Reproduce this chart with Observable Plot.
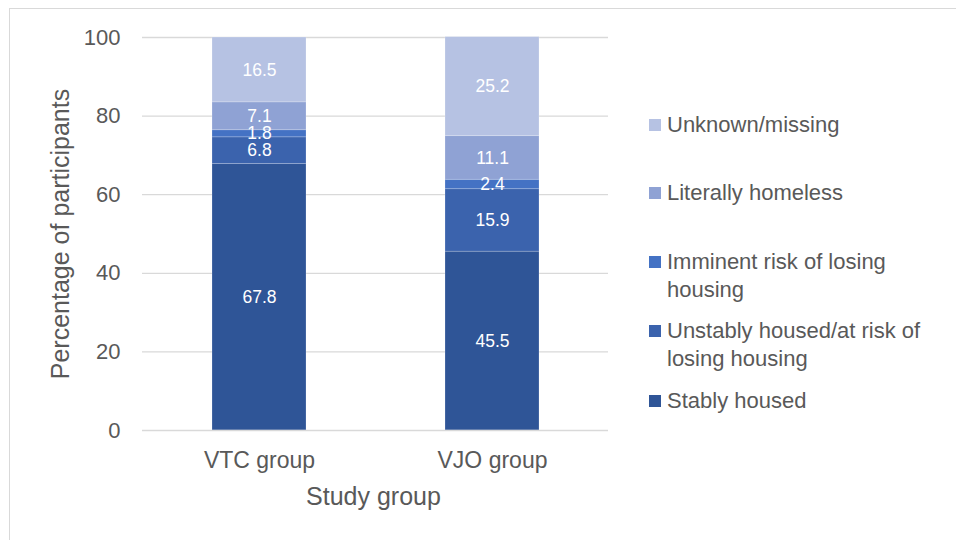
<!DOCTYPE html>
<html>
<head>
<meta charset="utf-8">
<script src="https://cdn.jsdelivr.net/npm/d3@7"></script>
<script src="https://cdn.jsdelivr.net/npm/@observablehq/plot@0.6"></script>
<style>
  html, body { margin: 0; padding: 0; background: #fff; }
  #wrap { position: relative; width: 956px; height: 540px; overflow: hidden; font-family: "Liberation Sans", Arial, sans-serif; color: #595959; }
  #frame { position: absolute; left: 9px; top: 8px; width: 980px; height: 600px; border: 1.5px solid #d9d9d9; box-sizing: border-box; }
  #chart { position: absolute; left: 0; top: 0; }
  .leg { position: absolute; left: 649px; font-size: 22px; line-height: 28px; color: #595959; white-space: nowrap; }
  .sw { position: absolute; left: 0; width: 12px; height: 12px; }
  .lt { position: absolute; left: 18px; top: 0; }
</style>
</head>
<body>
<div id="wrap">
  <div id="frame"></div>
  <div id="chart"></div>
</div>
<script>
const groups = ["VTC group", "VJO group"];
const categories = [
  "Stably housed",
  "Unstably housed/at risk of losing housing",
  "Imminent risk of losing housing",
  "Literally homeless",
  "Unknown/missing"
];
const vtcValues = [67.8, 6.8, 1.8, 7.1, 16.5];
const vjoValues = [45.5, 15.9, 2.4, 11.1, 25.2];
const colors = ["#2F5597", "#3B63AD", "#4472C4", "#8FA2D4", "#B6C2E3"];
const yTicks = [0, 20, 40, 60, 80, 100];
// legend order top to bottom, with the line breaks seen in the picture
const legendLines = [
  ["Unknown/missing"],
  ["Literally homeless"],
  ["Imminent risk of losing", "housing"],
  ["Unstably housed/at risk of", "losing housing"],
  ["Stably housed"]
];
const legendCats = [4, 3, 2, 1, 0];
const legendTops = [111, 179, 248, 317, 387];

const rows = [];
groups.forEach((g, gi) => {
  const vals = gi === 0 ? vtcValues : vjoValues;
  categories.forEach((c, ci) => rows.push({group: g, cat: c, value: vals[ci]}));
});

const plot = Plot.plot({
  width: 956,
  height: 540,
  marginLeft: 142,
  marginRight: 348,
  marginTop: 37,
  marginBottom: 110,
  style: {fontFamily: '"Liberation Sans", Arial, sans-serif', color: "#595959", background: "transparent"},
  x: {domain: groups, paddingInner: 0.597, paddingOuter: 0.2985, label: null},
  y: {domain: [0, 100], label: null},
  color: {domain: categories, range: colors},
  marks: [
    Plot.ruleY(yTicks.filter(d => d > 0), {stroke: "#d9d9d9", strokeWidth: 1.3}),
    Plot.barY(rows, Plot.stackY({x: "group", y: "value", fill: "cat", order: null,
      stroke: "white", strokeWidth: 0.8, strokeOpacity: 0.25})),
    Plot.ruleY([0], {stroke: "#d9d9d9", strokeWidth: 1.5}),
    Plot.text(rows, Plot.stackY({x: "group", y: "value", z: "cat", order: null,
      text: d => d.value.toFixed(1), fill: "white", fontSize: 17.5})),
    Plot.axisY({ticks: yTicks, tickSize: 0, tickPadding: 22, fontSize: 22, label: null, fill: "#595959"}),
    Plot.axisX({tickSize: 0, tickPadding: 21, fontSize: 23, label: null, fill: "#595959"}),
    Plot.text(["Percentage of participants"], {frameAnchor: "left", dx: -82, rotate: -90,
      textAnchor: "middle", lineAnchor: "middle", fontSize: 25, fill: "#595959"}),
    Plot.text(["Study group"], {frameAnchor: "bottom", dy: 66, dx: -2,
      textAnchor: "middle", lineAnchor: "middle", fontSize: 25, fill: "#595959"})
  ]
});
document.getElementById("chart").appendChild(plot);

const wrap = document.getElementById("wrap");
legendLines.forEach((lines, i) => {
  const div = document.createElement("div");
  div.className = "leg";
  div.style.top = legendTops[i] + "px";
  const sw = document.createElement("div");
  sw.className = "sw";
  sw.style.background = colors[legendCats[i]];
  sw.style.top = "8px";
  div.appendChild(sw);
  const t = document.createElement("div");
  t.className = "lt";
  t.innerHTML = lines.join("<br>");
  div.appendChild(t);
  wrap.appendChild(div);
});
</script>
</body>
</html>
